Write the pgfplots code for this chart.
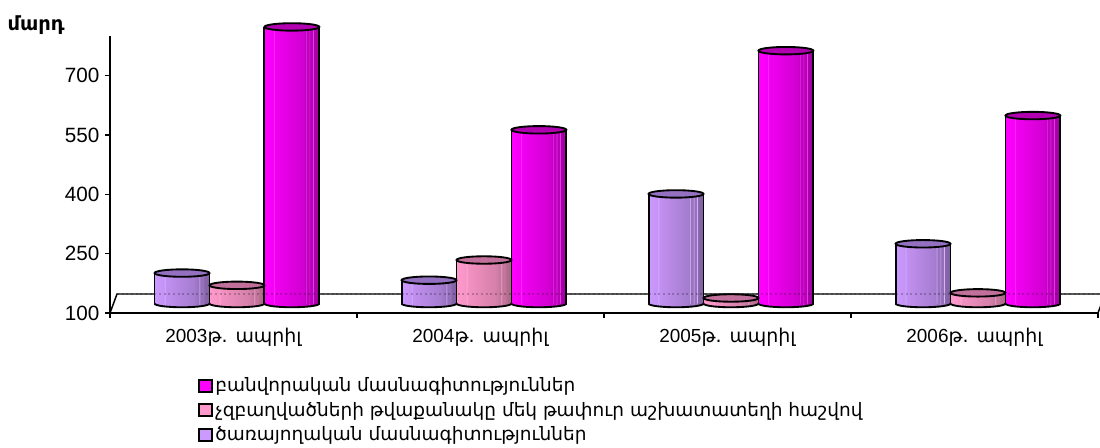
\documentclass[border=0pt]{standalone}
\usepackage{fontspec}
\usepackage{pgfplots}
\pgfplotsset{compat=1.18}
\setmainfont{Liberation Sans}
\newfontfamily\hy[Script=Armenian]{DejaVu Sans}

% cylinder shadings, the middle 50bp is what lands on the bar
\newcommand{\defshade}[3]{%
  \colorlet{#1a}{#2!90!#3}\colorlet{#1b}{#2!72!white}\colorlet{#1c}{#2!86!#3}
  \colorlet{#1d}{#2!65!#3}\colorlet{#1f}{#2!50!#3}
  \colorlet{#1g}{#2!35!#3}\colorlet{#1h}{#2!60!white}\colorlet{#1i}{#2!28!#3}
  \colorlet{#1j}{#2!15!#3}
  \pgfdeclarehorizontalshading{sh#1}{100bp}{
    color(0bp)=(#2);
    color(25bp)=(#2);
    color(33.4bp)=(#1a);
    color(34bp)=(#1b);
    color(34.6bp)=(#1c);
    color(50bp)=(#1d);
    color(61bp)=(#1f);
    color(62bp)=(#1g);
    color(62.5bp)=(#1h);
    color(63bp)=(#1g);
    color(65.5bp)=(#1g);
    color(66bp)=(#1h);
    color(66.5bp)=(#1i);
    color(68.5bp)=(#1i);
    color(69bp)=(#1h);
    color(69.5bp)=(#1j);
    color(75bp)=(#3);
    color(100bp)=(#3)}%
  % only the lower half of the base ellipse shows
  \pgfdeclareplotmark{base#1}{%
    \pgfpathmoveto{\pgfqpoint{-20.6pt}{0pt}}%
    \pgfpatharc{180}{360}{20.6pt and 2.8pt}%
    \pgfshadepath{sh#1}{0}\pgfusepathqstroke}}
\definecolor{cPu}{HTML}{CC99FF}\definecolor{dPu}{HTML}{7F5FA0}\definecolor{tPu}{HTML}{9370C0}
\definecolor{cPi}{HTML}{FF99CC}\definecolor{dPi}{HTML}{AB6688}\definecolor{tPi}{HTML}{C0709A}
\definecolor{cMa}{HTML}{FF00FF}\definecolor{dMa}{HTML}{A000A0}\definecolor{tMa}{HTML}{B000B0}
\defshade{Pu}{cPu}{dPu}
\defshade{Pi}{cPi}{dPi}
\defshade{Ma}{cMa}{dMa}
\pgfdeclareplotmark{captop}{%
  \pgfpathellipse{\pgfqpoint{0pt}{0pt}}{\pgfqpoint{20.6pt}{0pt}}{\pgfqpoint{0pt}{2.8pt}}%
  \pgfusepathqfillstroke}

% x, value, horizontal offset of the bar, series
\newcommand{\cyl}[4]{%
  \addplot[forget plot,only marks,mark=base#4,line width=1.4pt,xshift=#3,yshift=7.1pt,mark options={solid}] coordinates {(#1,100)};
  \addplot[forget plot,ybar,bar width=41.2pt,bar shift=0pt,draw=none,shading=sh#4,xshift=#3,yshift=7.1pt] coordinates {(#1,#2)};
  \addplot[forget plot,black,line width=1.4pt,xshift=#3-20.6pt,yshift=7.1pt] coordinates {(#1,100) (#1,#2)};
  \addplot[forget plot,black,line width=1.4pt,xshift=#3+20.6pt,yshift=7.1pt] coordinates {(#1,100) (#1,#2)};
  \addplot[forget plot,only marks,mark=captop,line width=1.4pt,xshift=#3,yshift=7.1pt,mark options={solid,fill=t#4}] coordinates {(#1,#2)};
}

\begin{document}
\begin{tikzpicture}
\path[use as bounding box] (0,0) rectangle (825pt,335.25pt);
\begin{axis}[
  at={(82.5pt,100.5pt)},anchor=south west,
  scale only axis,width=741pt,height=207.75pt,
  xmin=0,xmax=4,ymin=100,ymax=800,
  clip=false,
  axis x line=bottom,axis y line=left,
  axis line style={-,line width=1.2pt},
  xtick={0,1,2,3,4},xticklabels={},
  extra x ticks={0.5,1.5,2.5,3.5},
  extra x tick labels={{2003{\hy թ. ապրիլ}},{2004{\hy թ. ապրիլ}},{2005{\hy թ. ապրիլ}},{2006{\hy թ. ապրիլ}}},
  extra x tick style={major tick length=0pt},
  ytick={100,250,400,550,700},
  tick align=outside,
  major tick length=3.75pt,
  tick style={black,line width=1pt},
  /pgf/number format/assume math mode=true,
  yticklabel style={font=\fontsize{15.5}{18}\selectfont,inner sep=1pt,xshift=-3pt},
  xticklabel style={font=\fontsize{14.2}{17}\selectfont,yshift=-7.5pt},
  legend style={at={(66pt,-46.5pt)},anchor=north west,draw=none,fill=none,
    font=\fontsize{13.86}{18.75}\selectfont\hy,legend cell align=left,row sep=2.4pt,
    inner sep=0pt,outer sep=0pt},
  legend image code/.code={\draw[#1,line width=1.5pt] (-2.5pt,-4.5pt) rectangle (7pt,4.5pt);},
]
\draw[line width=1.1pt] (axis cs:0,100) -- ++(5.25pt,14.25pt) -- ++(741pt,0pt);
\draw[line width=1.1pt] (axis cs:4,100) -- ++(5.25pt,14.25pt);

\cyl{0.5}{177}{-38.6pt}{Pu}
\cyl{0.5}{146}{2.6pt}{Pi}
\cyl{0.5}{799}{43.8pt}{Ma}
\cyl{1.5}{159}{-38.6pt}{Pu}
\cyl{1.5}{210}{2.6pt}{Pi}
\cyl{1.5}{539}{43.8pt}{Ma}
\cyl{2.5}{377}{-38.6pt}{Pu}
\cyl{2.5}{114}{2.6pt}{Pi}
\cyl{2.5}{739}{43.8pt}{Ma}
\cyl{3.5}{251}{-38.6pt}{Pu}
\cyl{3.5}{127}{2.6pt}{Pi}
\cyl{3.5}{575}{43.8pt}{Ma}

% the floor line shows faintly through the bars
\draw[black,opacity=0.22,line width=1pt,dash pattern=on 1.5pt off 2pt] (axis cs:0,100) ++(5.25pt,14.25pt) -- ++(741pt,0pt);

\addlegendimage{fill=cMa,draw=black}
\addlegendentry{բանվորական մասնագիտություններ}
\addlegendimage{fill=cPi,draw=black}
\addlegendentry{չզբաղվածների թվաքանակը մեկ թափուր աշխատատեղի հաշվով}
\addlegendimage{fill=cPu,draw=black}
\addlegendentry{ծառայողական մասնագիտություններ}

\node[anchor=west,font=\fontsize{14.6}{16}\selectfont\bfseries\hy,inner sep=0pt] at (rel axis cs:-0.104,1.04) {մարդ};
\end{axis}
\end{tikzpicture}
\end{document}
